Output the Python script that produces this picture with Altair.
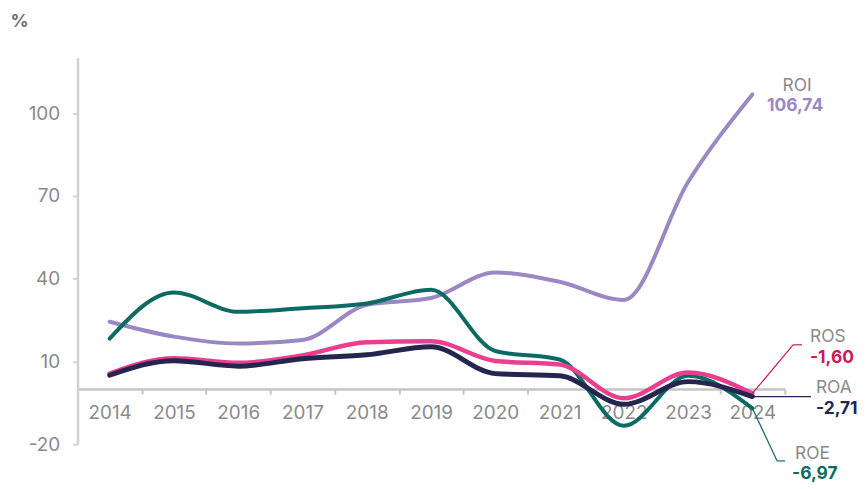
import altair as alt
import pandas as pd

years = list(range(2014, 2025))
roi = [24.4, 19.0, 16.5, 17.8, 30.5, 33.0, 42.2, 38.9, 32.3, 75.0, 106.74]
roe = [18.3, 35.0, 28.0, 29.3, 31.0, 36.0, 13.8, 10.7, -13.3, 4.8, -6.97]
ros = [5.6, 11.2, 9.5, 12.2, 17.0, 17.3, 10.2, 8.9, -3.3, 6.0, -1.60]
roa = [5.0, 10.3, 8.3, 11.0, 12.4, 15.3, 5.6, 4.8, -5.5, 2.7, -2.71]

series_names = ["ROI", "ROE", "ROS", "ROA"]
series_values = [roi, roe, ros, roa]
line_colors = ["#9a88c4", "#0b6b62", "#ea3f8e", "#25264f"]
value_colors = ["#9a88c4", "#0b6b62", "#cc1a5a", "#25264f"]
value_labels = ["106,74", "-6,97", "-1,60", "-2,71"]
line_widths = [4, 4, 4.5, 5]

FONT = "Inter"
GRAY = "#8a8a8a"
W = 711.7
H = 389
AX_FS = 19
ANN_FS = 17.5

x_scale = alt.Scale(domain=[2013.5, 2024.5], nice=False, zero=False)
y_scale = alt.Scale(domain=[-20, 120], nice=False, zero=False)

tick_vals = [2013.5 + 0.5 * i for i in range(23)]

x_axis = alt.Axis(
    values=tick_vals,
    labelExpr="datum.value % 1 === 0 ? toString(datum.value) : ''",
    tickOpacity={"condition": {"test": "datum.value % 1 !== 0", "value": 1}, "value": 0},
    offset=-20 / 140 * H,
    grid=False,
    title=None,
    domainColor="#c4c4c4",
    domainWidth=2.5,
    tickColor="#c4c4c4",
    tickWidth=2,
    tickSize=5,
    labelPadding=10,
    labelFont=FONT,
    labelFontSize=AX_FS,
    labelColor=GRAY,
    labelBaseline="top",
)

y_axis = alt.Axis(
    values=[-20, 10, 40, 70, 100],
    labelExpr="toString(datum.value)",
    grid=False,
    title="%",
    titleAngle=0,
    titleX=-68,
    titleY=-37,
    titleAlign="left",
    titleBaseline="middle",
    titleFont=FONT,
    titleFontSize=18,
    titleFontWeight="bold",
    titleColor="#6f6f6f",
    domainColor="#d2d2d2",
    domainWidth=2.5,
    tickColor="#d2d2d2",
    tickWidth=2,
    tickSize=5,
    labelPadding=13,
    labelFont=FONT,
    labelFontSize=AX_FS,
    labelColor=GRAY,
)

X = alt.X("year:Q", scale=x_scale, axis=x_axis)
Y = alt.Y("value:Q", scale=y_scale, axis=y_axis)

layers = []
for i, (name, vals) in enumerate(zip(series_names, series_values)):
    df = pd.DataFrame({"year": years, "value": vals, "series": name})
    layers.append(
        alt.Chart(df).mark_line(
            interpolate="monotone", color=line_colors[i], strokeWidth=line_widths[i],
            strokeCap="round",
        ).encode(x=X, y=Y)
    )

# annotation settings per series (pixel offsets from the last point)
ann = {
    "ROI": dict(segs=[], name=(45, -8, "center"), val=(43, 12, "center")),
    "ROE": dict(segs=[(0, 0, 25, 53), (25, 53, 33, 53)], name=(43, 46, "left"), val=(40, 66, "left")),
    "ROS": dict(segs=[(0, 0, 41, -49), (41, -49, 50, -49)], name=(58, -57, "left"), val=(58, -36, "left")),
    "ROA": dict(segs=[(0, 0, 59, 0)], name=(64, -9, "left"), val=(64, 13, "left")),
}

for i, (name, vals) in enumerate(zip(series_names, series_values)):
    last = pd.DataFrame({"year": [years[-1]], "value": [vals[-1]],
                         "name": [name], "label": [value_labels[i]]})
    b = alt.Chart(last)
    a = ann[name]
    for (x0, y0, x1, y1) in a["segs"]:
        layers.append(
            b.mark_rule(color=value_colors[i], strokeWidth=1.2,
                        xOffset=x0, yOffset=y0, x2Offset=x1, y2Offset=y1).encode(
                x=X, y=Y, x2="year:Q", y2="value:Q",
            )
        )
    dx, dy, al = a["name"]
    layers.append(
        b.mark_text(font=FONT, fontSize=ANN_FS, color=GRAY, align=al, baseline="middle",
                    dx=dx, dy=dy).encode(x=X, y=Y, text="name:N")
    )
    dx, dy, al = a["val"]
    layers.append(
        b.mark_text(font=FONT, fontSize=ANN_FS, fontWeight="bold", color=value_colors[i],
                    align=al, baseline="middle", dx=dx, dy=dy).encode(x=X, y=Y, text="label:N")
    )

chart = alt.layer(*layers).properties(
    width=W,
    height=H,
    autosize=alt.AutoSizeParams(type="none"),
    padding={"left": 70, "top": 48.6, "right": 74, "bottom": 40},
    background="white",
).configure_view(stroke=None)

chart.save("out.html", embed_options={"renderer": "svg", "actions": False})
